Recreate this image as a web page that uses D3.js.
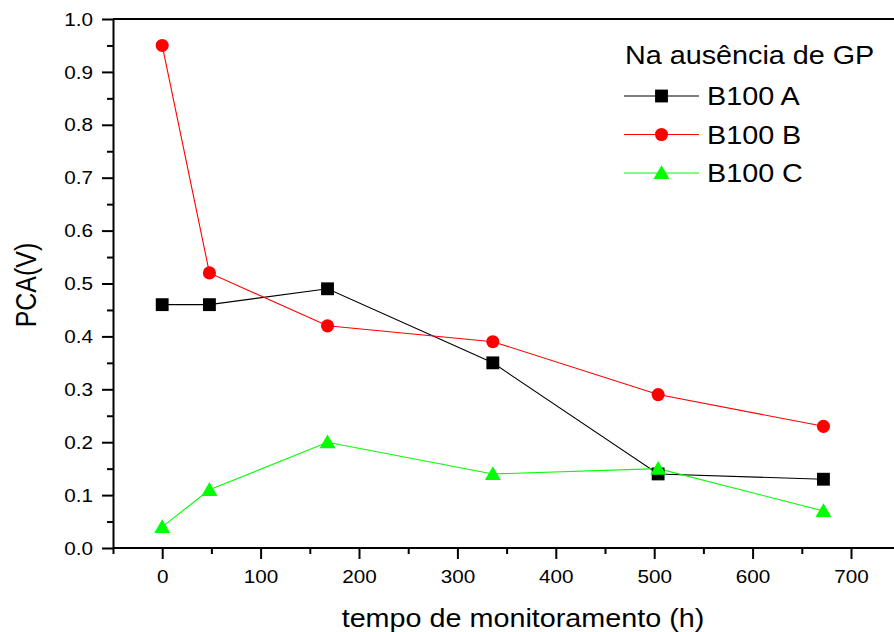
<!DOCTYPE html>
<html>
<head>
<meta charset="utf-8">
<script src="https://cdn.jsdelivr.net/npm/d3@7"></script>
<style>
  html, body { margin: 0; padding: 0; background: #fff; }
  svg { display: block; }
  text { font-family: "Liberation Sans", Arial, sans-serif; fill: #000; }
</style>
</head>
<body>
<svg id="chart" width="894" height="632"></svg>
<script>
// ---- data ----
const hours = [0, 48, 168, 336, 504, 672];
const seriesA = [0.46, 0.46, 0.49, 0.35, 0.14, 0.13];
const seriesB = [0.95, 0.52, 0.42, 0.39, 0.29, 0.23];
const seriesC = [0.04, 0.11, 0.20, 0.14, 0.15, 0.07];
const seriesNames = ["B100 A", "B100 B", "B100 C"];
const xTicks = [0, 100, 200, 300, 400, 500, 600, 700];
const yTicks = [0.0, 0.1, 0.2, 0.3, 0.4, 0.5, 0.6, 0.7, 0.8, 0.9, 1.0];
const legendTitle = "Na ausência de GP";
const xTitle = "tempo de monitoramento (h)";
const yTitle = "PCA(V)";

const series = [
  { name: seriesNames[0], values: seriesA, color: "#000000", symbol: d3.symbolSquare },
  { name: seriesNames[1], values: seriesB, color: "#ff0000", symbol: d3.symbolCircle },
  { name: seriesNames[2], values: seriesC, color: "#00ff00", symbol: d3.symbolTriangle }
];

const svg = d3.select("#chart");
const SX = 1.15; // horizontal stretch of text in the reference

const x = d3.scaleLinear().domain([-50, 750]).range([113, 113 + 800 * 0.984]);
const y = d3.scaleLinear().domain([0, 1]).range([548, 19]);

// top frame line
svg.append("line")
  .attr("x1", x(-50)).attr("x2", 894)
  .attr("y1", y(1)).attr("y2", y(1))
  .attr("stroke", "#000").attr("stroke-width", 2);

// minor ticks
const xMinor = d3.range(-50, 751, 100);
const yMinor = d3.range(0.05, 1.0, 0.1);
svg.append("g").attr("transform", `translate(0,${y(0)})`)
  .call(d3.axisBottom(x).tickValues(xMinor).tickSize(6).tickSizeOuter(0).tickFormat(""))
  .call(g => g.select(".domain").remove())
  .call(g => g.selectAll("line").attr("stroke-width", 2));
svg.append("g").attr("transform", `translate(${x(-50)},0)`)
  .call(d3.axisLeft(y).tickValues(yMinor).tickSize(6).tickSizeOuter(0).tickFormat(""))
  .call(g => g.select(".domain").remove())
  .call(g => g.selectAll("line").attr("stroke-width", 2));

// major axes
const xAxis = svg.append("g").attr("transform", `translate(0,${y(0)})`)
  .call(d3.axisBottom(x).tickValues(xTicks).tickSize(11).tickSizeOuter(0).tickPadding(11).tickFormat(d3.format("d")));
xAxis.select(".domain").attr("stroke-width", 2).attr("d", `M${x(-50)},0H894`);
xAxis.selectAll("line").attr("stroke-width", 2);
xAxis.selectAll("text")
  .style("font-size", "18px")
  .style("font-family", "Liberation Sans, Arial, sans-serif")
  .attr("transform", `scale(${SX},1)`);

const yAxis = svg.append("g").attr("transform", `translate(${x(-50)},0)`)
  .call(d3.axisLeft(y).tickValues(yTicks).tickSize(11).tickSizeOuter(0).tickFormat(d3.format(".1f")));
yAxis.select(".domain").attr("stroke-width", 2);
yAxis.selectAll("line").attr("stroke-width", 2);
yAxis.selectAll("text")
  .style("font-size", "18px")
  .style("font-family", "Liberation Sans, Arial, sans-serif")
  .attr("x", -20 / SX)
  .attr("dy", "0.34em")
  .attr("transform", `scale(${SX},1)`);

// axis titles
svg.append("text")
  .attr("transform", `translate(523,627) scale(${SX},1)`)
  .attr("text-anchor", "middle")
  .style("font-size", "25px")
  .text(xTitle);
svg.append("text")
  .attr("transform", `translate(36,285) rotate(-90) scale(1,${SX})`)
  .attr("text-anchor", "middle")
  .style("font-size", "25px")
  .text(yTitle);

// lines and markers
const line = d3.line().x((d, i) => x(hours[i])).y(d => y(d));
series.forEach(s => {
  svg.append("path")
    .datum(s.values)
    .attr("d", line)
    .attr("fill", "none")
    .attr("stroke", s.color)
    .attr("stroke-width", 1.1);
});
const symSize = { "B100 A": 165, "B100 B": 135, "B100 C": 100 };
series.forEach(s => {
  svg.append("g").selectAll("path")
    .data(s.values)
    .join("path")
    .attr("transform", (d, i) => `translate(${x(hours[i])},${y(d) + (s.symbol === d3.symbolTriangle ? 1.5 : 0)})`)
    .attr("d", d3.symbol().type(s.symbol).size(s.symbol === d3.symbolTriangle ? 110 : symSize[s.name]))
    .attr("fill", s.color);
});

// legend
const lg = svg.append("g");
lg.append("text")
  .attr("transform", `translate(625,64) scale(${SX},1)`)
  .style("font-size", "25px")
  .text(legendTitle);
series.forEach((s, i) => {
  const cy = 96 + i * 38.5;
  lg.append("line")
    .attr("x1", 624).attr("x2", 699)
    .attr("y1", cy).attr("y2", cy)
    .attr("stroke", s.color).attr("stroke-width", 1.1);
  lg.append("path")
    .attr("transform", `translate(661.5,${cy + (s.symbol === d3.symbolTriangle ? 1.5 : 0)})`)
    .attr("d", d3.symbol().type(s.symbol).size(s.symbol === d3.symbolTriangle ? 110 : symSize[s.name]))
    .attr("fill", s.color);
  lg.append("text")
    .attr("transform", `translate(707,${cy + 9}) scale(${SX},1)`)
    .style("font-size", "25px")
    .text(s.name);
});
</script>
</body>
</html>
